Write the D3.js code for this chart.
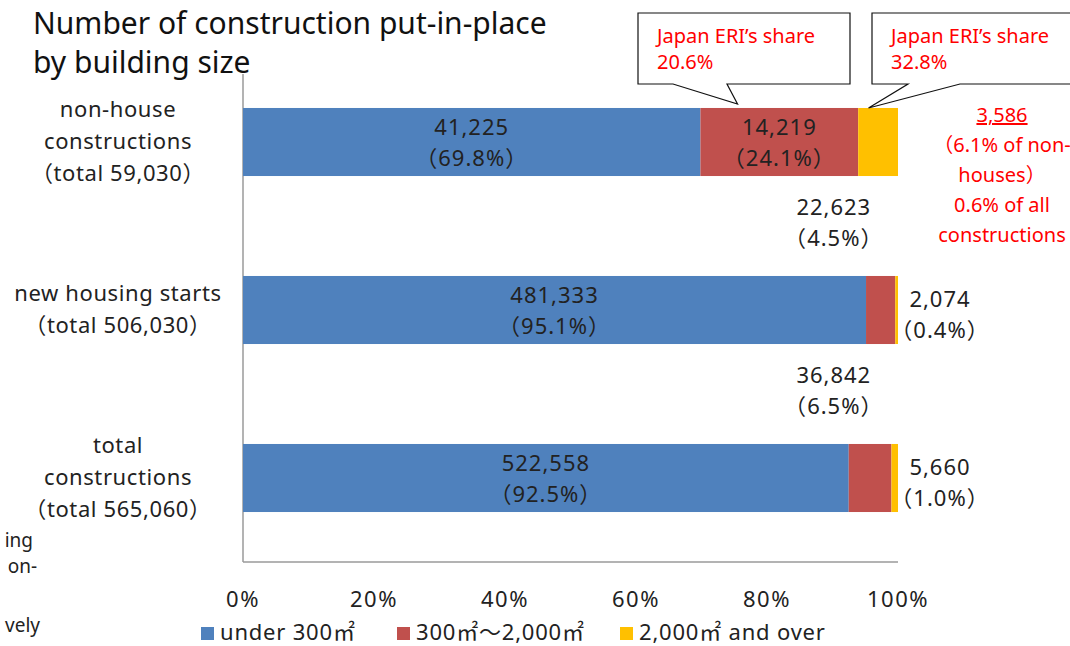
<!DOCTYPE html>
<html><head><meta charset="utf-8">
<script src="https://cdn.jsdelivr.net/npm/d3@7"></script>
<style>
body{margin:0;background:#fff;}
text{font-family:"Noto Sans","Noto Sans CJK JP",sans-serif;}
.cjk{font-family:"Noto Sans CJK JP",sans-serif;}
</style></head>
<body>
<svg id="chart" width="1070" height="646"></svg>
<script>
const categories = ["non-house", "housing", "total"];
const categoryLabels = [
  ["non-house", "constructions", "（total 59,030）"],
  ["new housing starts", "（total 506,030）"],
  ["total", "constructions", "（total 565,060）"]
];
const seriesNames = ["under 300㎡", "300㎡～2,000㎡", "2,000㎡ and over"];
const under300 = [41225, 481333, 522558];
const mid300to2000 = [14219, 22623, 36842];
const over2000 = [3586, 2074, 5660];
const pctUnder = ["69.8%", "95.1%", "92.5%"];
const pctMid = ["24.1%", "4.5%", "6.5%"];
const pctOver = ["6.1%", "0.4%", "1.0%"];
const tickValues = [0, 0.2, 0.4, 0.6, 0.8, 1.0];
const colors = ["#4F81BD", "#C0504D", "#FFC000"];
const callouts = [["Japan ERI’s share", "20.6%"], ["Japan ERI’s share", "32.8%"]];
const noteLines = ["3,586", "（6.1% of non-", "houses）", "0.6% of all", "constructions"];

const svg = d3.select("#chart");
const x = d3.scaleLinear().domain([0, 1]).range([243, 898]);
const y = d3.scaleBand().domain(categories).range([58, 562]).paddingInner(0.595).paddingOuter(0.2975);
const fmt = d3.format(",");

function addText(sel, str) {
  const parts = str.match(/[（）㎡～]+|[^（）㎡～]+/g) || [];
  parts.forEach(p => {
    const t = sel.append("tspan").text(p);
    if (/[（）㎡～]/.test(p)) t.attr("class", "cjk");
  });
  return sel;
}

const rows = categories.map((c, i) => {
  const vals = [under300[i], mid300to2000[i], over2000[i]];
  const tot = d3.sum(vals);
  let acc = 0;
  const segs = vals.map((v, k) => { const s = {k, v, x0: acc / tot, x1: (acc + v) / tot}; acc += v; return s; });
  return {c, i, segs};
});

// plot frame
svg.append("line").attr("x1", x(0)).attr("x2", x(0)).attr("y1", 74).attr("y2", 562).attr("stroke", "#9a9a9a").attr("stroke-width", 1.5);
svg.append("line").attr("x1", x(0)).attr("x2", x(1)).attr("y1", 562).attr("y2", 562).attr("stroke", "#9a9a9a").attr("stroke-width", 1.5);

// bars
rows.forEach(r => {
  svg.append("g").selectAll("rect").data(r.segs).join("rect")
    .attr("x", d => x(d.x0)).attr("width", d => x(d.x1) - x(d.x0))
    .attr("y", y(r.c)).attr("height", y.bandwidth())
    .attr("fill", d => colors[d.k]);
});

// value labels
const lab = (xx, yy, t1, t2) => {
  const g = svg.append("g").attr("fill", "#222").attr("font-size", 22).attr("letter-spacing", 1).attr("text-anchor", "middle");
  addText(g.append("text").attr("x", xx).attr("y", yy), t1);
  addText(g.append("text").attr("x", xx).attr("y", yy + 31), t2);
};
rows.forEach(r => {
  const s0 = r.segs[0];
  lab((x(s0.x0) + x(s0.x1)) / 2, y(r.c) + 27, fmt(s0.v), "（" + pctUnder[r.i] + "）");
});
{
  const s1 = rows[0].segs[1];
  lab((x(s1.x0) + x(s1.x1)) / 2, y("non-house") + 27, fmt(s1.v), "（" + pctMid[0] + "）");
}
[1, 2].forEach(i => {
  const r = rows[i];
  lab(x(0.902), y(r.c) - 61, fmt(r.segs[1].v), "（" + pctMid[i] + "）");
  lab(x(1) + 42, y(r.c) + 31, fmt(r.segs[2].v), "（" + pctOver[i] + "）");
});

// category labels
rows.forEach((r, i) => {
  const lines = categoryLabels[i];
  const cy = y(r.c) + y.bandwidth() / 2;
  const start = cy - (lines.length - 1) * 16 + 7;
  const g = svg.append("g").attr("font-size", 22).attr("letter-spacing", 0.6).attr("fill", "#222").attr("text-anchor", "middle");
  lines.forEach((t, j) => addText(g.append("text").attr("x", 118).attr("y", start + j * 32), t));
});

// x axis tick labels
svg.append("g").selectAll("text").data(tickValues).join("text")
  .attr("x", d => x(d)).attr("y", 607).attr("text-anchor", "middle").attr("font-size", 22).attr("letter-spacing", 1.5).attr("fill", "#222")
  .text(d => d3.format(".0%")(d));

// legend
const legX = [201, 397, 620];
const lg = svg.append("g");
seriesNames.forEach((n, k) => {
  lg.append("rect").attr("x", legX[k]).attr("y", 627).attr("width", 13).attr("height", 13).attr("fill", colors[k]);
  addText(lg.append("text").attr("x", legX[k] + 19).attr("y", 640).attr("font-size", 22).attr("letter-spacing", 0.8).attr("fill", "#222"), n);
});

// title
const tg = svg.append("g").attr("font-size", 30).attr("fill", "#111");
tg.append("text").attr("x", 33).attr("y", 34).text("Number of construction put-in-place");
tg.append("text").attr("x", 33).attr("y", 73).text("by building size");

// callouts
const barTop = y("non-house");
const callBoxes = [
  {x0: 638, x1: 850, b0: 673, b1: 727, tx: x(0.755), ty: barTop - 4},
  {x0: 872, x1: 1075, b0: 908, b1: 960, tx: x(0.955), ty: barTop}
];
callBoxes.forEach((b, k) => {
  const top = 13, bot = 84;
  const path = `M${b.x0},${top}L${b.x1},${top}L${b.x1},${bot}L${b.b1},${bot}L${b.tx},${b.ty}L${b.b0},${bot}L${b.x0},${bot}Z`;
  svg.append("path").attr("d", path).attr("fill", "#fff").attr("stroke", "#111").attr("stroke-width", 1.2);
  const g = svg.append("g").attr("font-size", 20).attr("fill", "#FF0000");
  g.append("text").attr("x", b.x0 + 19).attr("y", 43).text(callouts[k][0]);
  g.append("text").attr("x", b.x0 + 19).attr("y", 69).text(callouts[k][1]);
});

// right note
const ng = svg.append("g").attr("font-size", 20).attr("fill", "#FF0000").attr("text-anchor", "middle");
noteLines.forEach((t, j) => {
  const tt = addText(ng.append("text").attr("x", 1002).attr("y", 122 + j * 30), t);
  if (j === 0) tt.attr("text-decoration", "underline");
});

// clipped side text fragments
const sg = svg.append("g").attr("font-size", 19).attr("fill", "#222").attr("text-anchor", "end");
[["ing", 547, 33], ["on-", 573, 37], ["vely", 632, 40]].forEach(([t, yy, xx]) => sg.append("text").attr("x", xx).attr("y", yy).text(t));
</script>
</body></html>
